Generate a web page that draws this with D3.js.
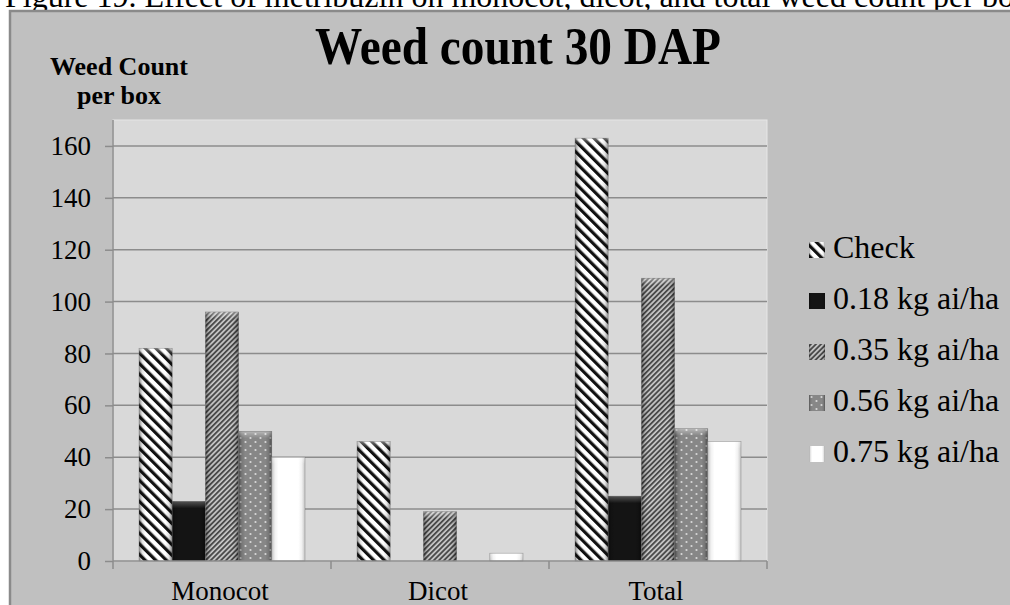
<!DOCTYPE html>
<html>
<head>
<meta charset="utf-8">
<script src="https://cdn.jsdelivr.net/npm/d3@7"></script>
<style>
  html, body { margin: 0; padding: 0; background: #ffffff; }
  svg { display: block; }
  text { font-family: "Liberation Serif", "Times New Roman", serif; fill: #000; }
</style>
</head>
<body>
<svg id="chart" width="1010" height="605"></svg>
<script>
// ---- data ----
const categories = ["Monocot", "Dicot", "Total"];
const seriesNames = ["Check", "0.18 kg ai/ha", "0.35 kg ai/ha", "0.56 kg ai/ha", "0.75 kg ai/ha"];
const checkValues = [82, 46, 163];
const rate018Values = [23, 0, 25];
const rate035Values = [96, 19, 109];
const rate056Values = [50, 0, 51];
const rate075Values = [40, 3, 46];
const yTickValues = [0, 20, 40, 60, 80, 100, 120, 140, 160];
const chartTitle = "Weed count 30 DAP";
const yTitleLines = ["Weed Count", "per box"];
const captionText = "Figure 19. Effect of metribuzin on monocot, dicot, and total weed count per box";

const seriesValues = [checkValues, rate018Values, rate035Values, rate056Values, rate075Values];
const seriesFills = ["url(#patCheck)", "url(#patBlack)", "url(#patFine)", "url(#patDots)", "url(#patWhite)"];

const svg = d3.select("#chart");
const defs = svg.append("defs");

// Check: wide "\" stripes
const p1 = defs.append("pattern").attr("id", "patCheck").attr("patternUnits", "userSpaceOnUse")
  .attr("width", 7.5).attr("height", 7.5).attr("patternTransform", "rotate(-45)");
p1.append("rect").attr("width", 7.5).attr("height", 7.5).attr("fill", "#ffffff");
p1.append("rect").attr("width", 3.2).attr("height", 7.5).attr("fill", "#111111");

// 0.18: solid black
const p2 = defs.append("pattern").attr("id", "patBlack").attr("patternUnits", "userSpaceOnUse")
  .attr("width", 4).attr("height", 4);
p2.append("rect").attr("width", 4).attr("height", 4).attr("fill", "#141414");

// 0.35: fine "/" stripes
const p3 = defs.append("pattern").attr("id", "patFine").attr("patternUnits", "userSpaceOnUse")
  .attr("width", 3.6).attr("height", 3.6).attr("patternTransform", "rotate(45)");
p3.append("rect").attr("width", 3.6).attr("height", 3.6).attr("fill", "#c8c8c8");
p3.append("rect").attr("width", 1.9).attr("height", 3.6).attr("fill", "#4a4a4a");

// 0.56: gray with white dots
const p4 = defs.append("pattern").attr("id", "patDots").attr("patternUnits", "userSpaceOnUse")
  .attr("width", 10).attr("height", 8);
p4.append("rect").attr("width", 10).attr("height", 8).attr("fill", "#878787");
p4.append("circle").attr("cx", 2.5).attr("cy", 2).attr("r", 1.1).attr("fill", "#d8d8d8");
p4.append("circle").attr("cx", 7.5).attr("cy", 6).attr("r", 1.1).attr("fill", "#d8d8d8");

// 0.75: white
const p5 = defs.append("pattern").attr("id", "patWhite").attr("patternUnits", "userSpaceOnUse")
  .attr("width", 4).attr("height", 4);
p5.append("rect").attr("width", 4).attr("height", 4).attr("fill", "#ffffff");

// bevel edge gradient
const g1 = defs.append("linearGradient").attr("id", "edgeGrad").attr("x1", 0).attr("x2", 1).attr("y1", 0).attr("y2", 0);
[[0, 0.5], [0.1, 0.12], [0.2, 0], [0.8, 0], [0.9, 0.12], [1, 0.5]].forEach(([o, a]) =>
  g1.append("stop").attr("offset", o).attr("stop-color", "#000").attr("stop-opacity", a));
const g2 = defs.append("linearGradient").attr("id", "topGrad").attr("x1", 0).attr("x2", 0).attr("y1", 0).attr("y2", 1);
g2.append("stop").attr("offset", 0).attr("stop-color", "#fff").attr("stop-opacity", 0.45);
g2.append("stop").attr("offset", 1).attr("stop-color", "#fff").attr("stop-opacity", 0);

// caption (partly hidden behind chart box)
svg.append("text").attr("x", 5).attr("y", 7).attr("font-size", 32).text(captionText);

// outer chart area
svg.append("rect").attr("x", 10).attr("y", 11).attr("width", 1010).attr("height", 610)
  .attr("fill", "#c0c0c0").attr("stroke", "#8a8a8a").attr("stroke-width", 2.5);

// ---- scales ----
const plot = { left: 113, right: 767, top: 120, bottom: 561 };
const x0 = d3.scaleBand().domain(categories).range([plot.left, plot.right]).padding(0);
const x1 = d3.scaleBand().domain(seriesNames).range([26, x0.bandwidth() - 26]).padding(0);
const y = d3.scaleLinear().domain([0, 170]).range([plot.bottom, plot.top]);

// plot area
svg.append("rect").attr("x", plot.left).attr("y", plot.top)
  .attr("width", plot.right - plot.left).attr("height", plot.bottom - plot.top)
  .attr("fill", "#d9d9d9").attr("stroke", "#e6e6e6").attr("stroke-width", 1);

// gridlines
svg.append("g").selectAll("line").data(yTickValues.filter(d => d > 0)).join("line")
  .attr("x1", plot.left).attr("x2", plot.right)
  .attr("y1", d => y(d)).attr("y2", d => y(d))
  .attr("stroke", "#8c8c8c").attr("stroke-width", 1.5);

// y axis
const yAxis = svg.append("g").attr("transform", `translate(${plot.left},0)`)
  .call(d3.axisLeft(y).tickValues(yTickValues).tickSize(8).tickPadding(14).tickSizeOuter(0));
yAxis.select(".domain").attr("stroke", "#8c8c8c").attr("stroke-width", 1.5)
  .attr("d", `M0,${plot.bottom}V${plot.top}`);
yAxis.selectAll(".tick line").attr("stroke", "#8c8c8c").attr("stroke-width", 1.5);
yAxis.selectAll(".tick text").attr("font-size", 27)
  .attr("font-family", "Liberation Serif, Times New Roman, serif").attr("fill", "#000");

// bars
const groups = svg.append("g").selectAll("g").data(categories).join("g")
  .attr("transform", d => `translate(${x0(d)},0)`);

groups.each(function (cat, ci) {
  const g = d3.select(this);
  seriesNames.forEach((s, si) => {
    const v = seriesValues[si][ci];
    if (v <= 0) return;
    const bx = x1(s), bw = x1.bandwidth(), by = y(v), bh = y(0) - y(v);
    g.append("rect").attr("x", bx).attr("y", by).attr("width", bw).attr("height", bh)
      .attr("fill", seriesFills[si]);
    g.append("rect").attr("x", bx).attr("y", by).attr("width", bw).attr("height", bh)
      .attr("fill", "url(#edgeGrad)").attr("opacity", si === 4 ? 0.45 : 0.9);
    g.append("rect").attr("x", bx).attr("y", by).attr("width", bw).attr("height", Math.min(7, bh))
      .attr("fill", "url(#topGrad)").attr("opacity", si === 1 ? 0.6 : 0.9);
    g.append("rect").attr("x", bx).attr("y", by).attr("width", bw).attr("height", bh)
      .attr("fill", "none").attr("stroke", "#6a6a6a").attr("stroke-width", 0.6).attr("stroke-opacity", 0.6);
  });
});

// x axis line and boundary ticks
svg.append("line").attr("x1", plot.left).attr("x2", plot.right)
  .attr("y1", y(0)).attr("y2", y(0)).attr("stroke", "#8c8c8c").attr("stroke-width", 1.5);
const boundaries = categories.map(c => x0(c)).concat([x0(categories[categories.length - 1]) + x0.bandwidth()]);
svg.append("g").selectAll("line").data(boundaries).join("line")
  .attr("x1", d => d).attr("x2", d => d).attr("y1", y(0)).attr("y2", y(0) + 8)
  .attr("stroke", "#8c8c8c").attr("stroke-width", 1.5);
svg.append("g").selectAll("text").data(categories).join("text")
  .attr("x", d => x0(d) + x0.bandwidth() / 2 - 2).attr("y", 600)
  .attr("text-anchor", "middle").attr("font-size", 27).text(d => d);

// title (tall, condensed)
svg.append("text").attr("transform", "translate(518,64) scale(1,1.12)").attr("text-anchor", "middle")
  .attr("font-size", 48).attr("font-weight", "bold")
  .attr("textLength", 406).attr("lengthAdjust", "spacingAndGlyphs").text(chartTitle);

// y-axis title
svg.append("g").selectAll("text").data(yTitleLines).join("text")
  .attr("x", 119).attr("y", (d, i) => 75 + i * 29)
  .attr("text-anchor", "middle").attr("font-size", 26).attr("font-weight", "bold").text(d => d);

// legend
const legend = svg.append("g").selectAll("g").data(seriesNames).join("g")
  .attr("transform", (d, i) => `translate(809,${258 + i * 51})`);
legend.append("rect").attr("x", 0).attr("y", -16).attr("width", 16).attr("height", 16)
  .attr("fill", (d, i) => seriesFills[i]);
legend.append("rect").attr("x", 0).attr("y", -16).attr("width", 16).attr("height", 16)
  .attr("fill", "url(#edgeGrad)").attr("opacity", 0.7);
legend.append("text").attr("x", 24).attr("y", 0).attr("font-size", 32).text(d => d);
</script>
</body>
</html>
